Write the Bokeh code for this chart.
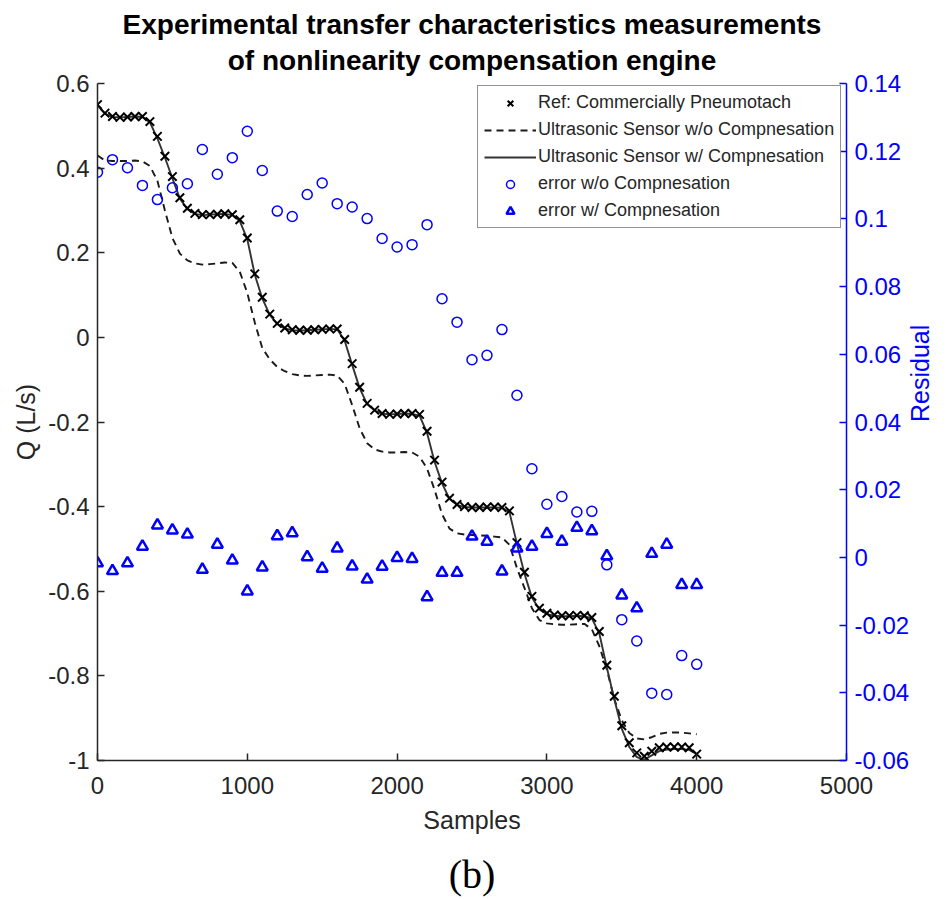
import math
from bokeh.plotting import figure
from bokeh.models import Range1d, LinearAxis, Title, Legend, LegendItem, FixedTicker
from bokeh.embed import file_html
from bokeh.resources import INLINE

# ---------------- data ----------------
samples = list(range(0, 4001, 50))

ref_flow = [
    0.550, 0.530, 0.522, 0.520, 0.521, 0.522, 0.522, 0.510, 0.475, 0.428,
    0.380, 0.330, 0.305, 0.293, 0.290, 0.290, 0.291, 0.292, 0.290, 0.278,
    0.235, 0.150, 0.095, 0.055, 0.033, 0.022, 0.018, 0.017, 0.017, 0.018,
    0.019, 0.020, 0.020, -0.005, -0.062, -0.118, -0.156, -0.172, -0.180, -0.182,
    -0.181, -0.180, -0.180, -0.182, -0.222, -0.290, -0.342, -0.380, -0.395, -0.400,
    -0.402, -0.402, -0.401, -0.401, -0.402, -0.410, -0.485, -0.555, -0.612, -0.640,
    -0.652, -0.656, -0.658, -0.658, -0.657, -0.658, -0.662, -0.695, -0.775, -0.848,
    -0.918, -0.958, -0.982, -0.990, -0.978, -0.970, -0.968, -0.968, -0.968, -0.970,
    -0.985,
]

uncomp_flow = [
    0.430, 0.418, 0.417, 0.417, 0.417, 0.418, 0.416, 0.405, 0.370, 0.300,
    0.235, 0.198, 0.182, 0.175, 0.172, 0.173, 0.175, 0.177, 0.176, 0.155,
    0.105, 0.035, -0.025, -0.052, -0.070, -0.080, -0.087, -0.090, -0.091, -0.090,
    -0.089, -0.088, -0.090, -0.110, -0.160, -0.215, -0.250, -0.265, -0.270, -0.272,
    -0.272, -0.271, -0.272, -0.282, -0.310, -0.360, -0.418, -0.452, -0.463, -0.466,
    -0.467, -0.468, -0.469, -0.471, -0.473, -0.490, -0.545, -0.592, -0.640, -0.668,
    -0.676, -0.678, -0.679, -0.679, -0.678, -0.677, -0.690, -0.730, -0.785, -0.855,
    -0.905, -0.935, -0.948, -0.950, -0.945, -0.937, -0.934, -0.934, -0.934, -0.936,
    -0.938,
]

comp_flow = [
    0.548, 0.528, 0.521, 0.520, 0.521, 0.522, 0.521, 0.508, 0.470, 0.425,
    0.376, 0.328, 0.303, 0.292, 0.289, 0.290, 0.291, 0.292, 0.289, 0.275,
    0.232, 0.148, 0.092, 0.053, 0.031, 0.021, 0.017, 0.016, 0.017, 0.018,
    0.019, 0.020, 0.019, -0.008, -0.065, -0.120, -0.158, -0.173, -0.180, -0.182,
    -0.181, -0.180, -0.181, -0.185, -0.226, -0.294, -0.345, -0.382, -0.396, -0.401,
    -0.402, -0.402, -0.402, -0.402, -0.403, -0.413, -0.488, -0.558, -0.615, -0.643,
    -0.654, -0.658, -0.659, -0.659, -0.658, -0.659, -0.664, -0.700, -0.780, -0.855,
    -0.925, -0.968, -0.992, -0.998, -0.988, -0.978, -0.974, -0.973, -0.973, -0.975,
    -0.985,
]

res_samples = list(range(0, 4001, 100))

err_wo = [
    0.1138, 0.1175, 0.1151, 0.1099, 0.1057, 0.1092, 0.1104, 0.1205, 0.1132, 0.1181,
    0.1259, 0.1143, 0.1023, 0.1007, 0.1072, 0.1106, 0.1045, 0.1035, 0.1001, 0.0942,
    0.0917, 0.0924, 0.0983, 0.0764, 0.0695, 0.0584, 0.0597, 0.0673, 0.0479, 0.0262,
    0.0157, 0.0180, 0.0134, 0.0136, -0.0022, -0.0184, -0.0247, -0.0401, -0.0405, -0.0290,
    -0.0316,
]

err_w = [
    -0.0017, -0.0040, -0.0017, 0.0032, 0.0095, 0.0080, 0.0068, -0.0036, 0.0038, -0.0009,
    -0.0100, -0.0029, 0.0063, 0.0072, 0.0001, -0.0033, 0.0027, -0.0026, -0.0065, -0.0027,
    -0.0001, -0.0004, -0.0117, -0.0045, -0.0045, 0.0062, 0.0047, -0.0041, 0.0027, 0.0032,
    0.0070, 0.0047, 0.0088, 0.0078, 0.0004, -0.0112, -0.0150, 0.0011, 0.0038, -0.0081,
    -0.0081,
]

x_ticks = [0, 1000, 2000, 3000, 4000, 5000]
x_tick_labels = ["0", "1000", "2000", "3000", "4000", "5000"]
q_ticks = [-1.0, -0.8, -0.6, -0.4, -0.2, 0.0, 0.2, 0.4, 0.6]
q_tick_labels = ["-1", "-0.8", "-0.6", "-0.4", "-0.2", "0", "0.2", "0.4", "0.6"]
res_ticks = [-0.06, -0.04, -0.02, 0.0, 0.02, 0.04, 0.06, 0.08, 0.1, 0.12, 0.14]
res_tick_labels = ["-0.06", "-0.04", "-0.02", "0", "0.02", "0.04", "0.06", "0.08", "0.1", "0.12", "0.14"]

legend_labels = [
    "Ref: Commercially Pneumotach",
    "Ultrasonic Sensor w/o Compnesation",
    "Ultrasonic Sensor w/ Compnesation",
    "error w/o Compnesation",
    "error w/ Compnesation",
]

title_line1 = "Experimental transfer characteristics measurements"
title_line2 = "of nonlinearity compensation engine"
panel_caption = "(b)"

# ---------------- figure ----------------
FONT = "Liberation Sans"
DARK = "#262626"
BLUE = "#0000ff"

p = figure(
    width=951, height=899,
    x_range=Range1d(0, 5000), y_range=Range1d(-1, 0.6),
    output_backend="svg", toolbar_location=None, title=None,
    min_border_left=97, min_border_right=104, min_border_top=83, min_border_bottom=139,
)
p.extra_y_ranges = {"res": Range1d(-0.06, 0.14)}
p.outline_line_color = None
p.background_fill_color = "white"
p.border_fill_color = "white"
p.xgrid.visible = False
p.ygrid.visible = False

def style_axis(ax, color, standoff):
    ax.axis_line_color = color
    ax.axis_line_width = 1.5
    ax.major_tick_line_color = color
    ax.major_tick_line_width = 1.5
    ax.major_tick_in = 7
    ax.major_tick_out = 0
    ax.minor_tick_line_color = None
    ax.major_label_text_font = FONT
    ax.major_label_text_font_size = "24px"
    ax.major_label_text_color = color
    ax.major_label_standoff = standoff
    ax.axis_label_text_font = FONT
    ax.axis_label_text_font_size = "25px"
    ax.axis_label_text_font_style = "normal"
    ax.axis_label_text_color = color

xax = p.xaxis[0]
style_axis(xax, DARK, 16)
xax.ticker = FixedTicker(ticks=x_ticks)
xax.major_label_overrides = dict(zip(x_ticks, x_tick_labels))
xax.axis_label = "Samples"
xax.axis_label_standoff = 9

yax = p.yaxis[0]
style_axis(yax, DARK, 8)
yax.ticker = FixedTicker(ticks=q_ticks)
yax.major_label_overrides = dict(zip(q_ticks, q_tick_labels))
yax.axis_label = "Q (L/s)"
yax.axis_label_standoff = 5

rax = LinearAxis(y_range_name="res", ticker=FixedTicker(ticks=res_ticks))
style_axis(rax, BLUE, 8)
rax.major_label_overrides = dict(zip(res_ticks, res_tick_labels))
rax.axis_label = "Residual"
rax.axis_label_standoff = 8
rax.axis_label_orientation = math.pi / 2
p.add_layout(rax, "right")

# ---------------- glyphs ----------------
r_dash = p.line(samples, uncomp_flow, line_color="#1a1a1a", line_dash="7 5", line_width=1.9)
r_solid = p.line(samples, comp_flow, line_color="#333333", line_width=1.9)
r_ref = p.scatter(samples, ref_flow, marker="x", size=12, line_color="black", line_width=2)
r_wo = p.scatter(res_samples, err_wo, marker="circle", size=10, fill_color=None,
                 line_color=BLUE, line_width=1.5, y_range_name="res")
r_w = p.scatter(res_samples, err_w, marker="triangle", size=11, fill_color=None,
                line_color=BLUE, line_width=2.5, y_range_name="res")

legend = Legend(
    items=[
        LegendItem(label=legend_labels[0], renderers=[r_ref]),
        LegendItem(label=legend_labels[1], renderers=[r_dash]),
        LegendItem(label=legend_labels[2], renderers=[r_solid]),
        LegendItem(label=legend_labels[3], renderers=[r_wo]),
        LegendItem(label=legend_labels[4], renderers=[r_w]),
    ],
    location=(380, 532),
    label_text_font=FONT, label_text_font_size="18px", label_text_color=DARK,
    glyph_width=52, glyph_height=20, label_height=20, label_standoff=2,
    spacing=6, padding=6, margin=0,
    border_line_color=DARK, border_line_width=1.2,
    background_fill_color="white", background_fill_alpha=1.0,
)
p.add_layout(legend)

# ---------------- titles ----------------
t2 = Title(text=title_line2, align="center", text_font=FONT, text_font_size="28px",
           text_font_style="bold", text_color="black", standoff=0,
           padding=dict(left=0, right=0, top=0, bottom=8))
p.add_layout(t2, "above")
t1 = Title(text=title_line1, align="center", text_font=FONT, text_font_size="28px",
           text_font_style="bold", text_color="black", standoff=0,
           padding=dict(left=0, right=0, top=0, bottom=3))
p.add_layout(t1, "above")

tb = Title(text=panel_caption, align="center",
           text_font="Liberation Serif", text_font_size="40px",
           text_font_style="normal", text_color="black", standoff=6,
           padding=dict(left=0, right=0, top=10, bottom=0))
p.add_layout(tb, "below")

open("out.html", "w").write(file_html(p, INLINE))
